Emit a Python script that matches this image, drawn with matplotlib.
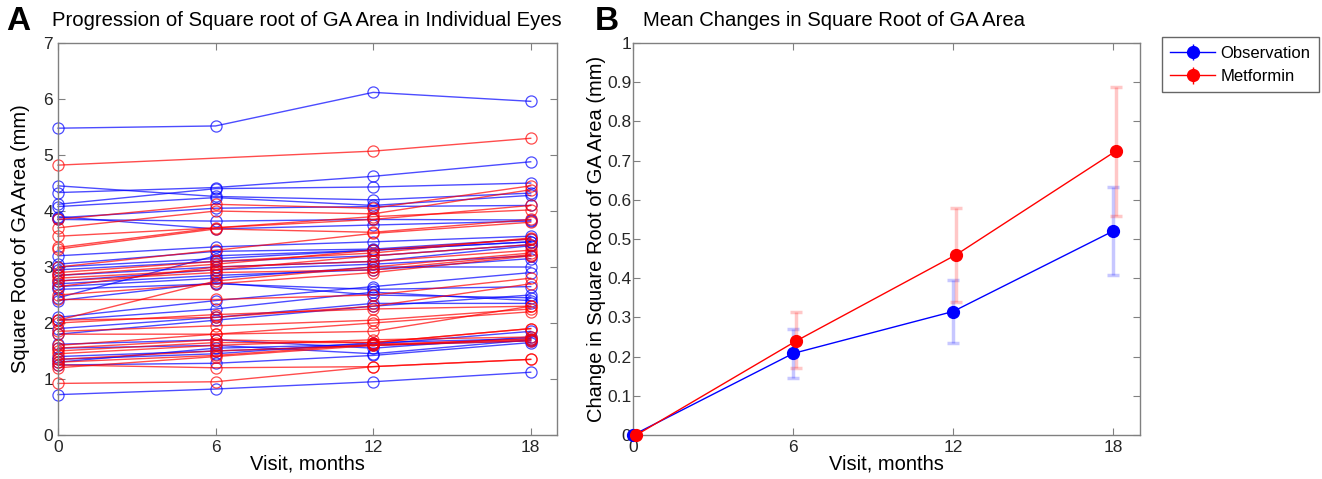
import numpy as np
import matplotlib
matplotlib.use("Agg")
import matplotlib.pyplot as plt

plt.rcParams['font.family'] = ['Liberation Sans', 'DejaVu Sans']

visits = [0, 6, 12, 18]
nan = np.nan

# Panel A: individual eyes (sqrt GA area, mm) at 0, 6, 12, 18 months
obs_eyes = [
    [5.48, 5.52, 6.12, 5.96],
    [4.33, 4.42, 4.62, 4.88],
    [4.12, 4.40, 4.43, 4.50],
    [4.45, 4.26, 4.20, 4.32],
    [4.08, 4.24, 4.10, 4.28],
    [3.88, 4.05, 4.08, 4.10],
    [3.85, 3.82, 3.85, 3.84],
    [3.90, 3.68, 3.75, 3.82],
    [3.20, 3.36, 3.45, 3.55],
    [3.05, 3.28, 3.32, 3.50],
    [3.00, 3.15, 3.30, 3.45],
    [2.95, 3.10, 3.20, 3.40],
    [2.85, 3.00, 3.10, 3.38],
    [2.75, 2.95, 3.05, 3.20],
    [2.70, 2.85, 2.95, 3.15],
    [2.65, 2.80, 3.00, 3.00],
    [2.60, 2.70, 2.60, 2.65],
    [2.45, 3.20, 3.30, 3.45],
    [2.40, 2.72, 2.50, 2.45],
    [2.10, 2.40, 2.65, 2.90],
    [2.05, 2.25, 2.55, 2.40],
    [1.90, 2.10, 2.35, 2.35],
    [1.80, 2.05, 2.30, 2.50],
    [1.62, 1.70, 1.55, 1.75],
    [1.55, 1.60, 1.45, 1.70],
    [1.40, 1.50, 1.60, 1.68],
    [1.35, 1.45, 1.65, 1.72],
    [1.30, 1.55, 1.62, 1.85],
    [1.25, 1.28, 1.42, 1.65],
    [0.72, 0.82, 0.95, 1.12],
]
met_eyes = [
    [4.82, nan, 5.07, 5.30],
    [3.85, 4.12, 4.05, 4.45],
    [3.70, 4.00, 3.95, 4.38],
    [3.55, nan, 3.85, 4.10],
    [3.35, 3.70, 3.90, 4.02],
    [3.32, 3.68, 3.62, 3.85],
    [3.00, 3.30, 3.60, 3.80],
    [2.90, 3.10, 3.25, 3.52],
    [2.85, 3.05, 3.30, 3.50],
    [2.80, 2.95, 3.20, 3.40],
    [2.75, 2.90, 2.95, 3.22],
    [2.65, 3.00, 3.10, 3.30],
    [2.50, 2.70, 2.90, 3.20],
    [2.42, 2.42, 2.50, 2.80],
    [2.05, 2.75, 3.00, 3.25],
    [2.05, 2.10, 2.30, 2.70],
    [2.00, 2.15, 2.25, 2.30],
    [1.85, 1.95, 2.05, 2.25],
    [1.80, 1.80, 2.00, 2.20],
    [1.60, 1.80, 1.85, 2.30],
    [1.55, 1.70, 1.65, 1.90],
    [1.50, 1.65, 1.65, 1.90],
    [1.45, 1.60, 1.70, 1.75],
    [1.35, 1.50, 1.60, 1.72],
    [1.30, 1.42, 1.62, 1.70],
    [1.25, 1.20, 1.22, 1.35],
    [1.20, 1.40, 1.60, 1.68],
    [0.92, 0.95, 1.22, 1.35],
]

# Panel B: mean change with error bar bounds
obs_mean = [0.0, 0.208, 0.315, 0.520]
obs_low = [0.0, 0.145, 0.235, 0.408]
obs_high = [0.0, 0.270, 0.395, 0.633]
met_mean = [0.0, 0.240, 0.460, 0.725]
met_low = [0.0, 0.170, 0.340, 0.560]
met_high = [0.0, 0.313, 0.580, 0.888]

fig = plt.figure(figsize=(13.22, 4.79), dpi=100)
axA = fig.add_axes([0.0439, 0.092, 0.3774, 0.818])
axB = fig.add_axes([0.479, 0.092, 0.383, 0.818])

spine_col = '#808080'
tick_col = '#262626'

def style(ax, ypad=3.5):
    for s in ax.spines.values():
        s.set_color(spine_col)
        s.set_linewidth(1.0)
    ax.tick_params(direction='in', which='both', top=True, right=True,
                   color=spine_col, labelcolor=tick_col, labelsize=12.5, length=5)
    ax.tick_params(axis='y', pad=ypad)

x = np.array(visits, dtype=float)
for eyes, col in ((obs_eyes, 'blue'), (met_eyes, 'red')):
    for e in eyes:
        y = np.array(e, dtype=float)
        m = ~np.isnan(y)
        axA.plot(x[m], y[m], '-o', color=col, mfc='none', mec=col, ms=8,
                 lw=1.0, mew=0.9, alpha=0.7, clip_on=False)

axA.set_xlim(0, 19)
axA.set_ylim(0, 7)
axA.set_xticks(visits)
axA.set_yticks(range(0, 8))
style(axA)
axA.set_xlabel('Visit, months', fontsize=14.5, labelpad=0)
axA.set_ylabel('Square Root of GA Area (mm)', fontsize=14.5, labelpad=10)
axA.set_title('Progression of Square root of GA Area in Individual Eyes',
              fontsize=14.6, loc='left', x=-0.012, pad=12)
fig.text(0.005, 0.922, 'A', fontsize=24, fontweight='bold', ha='left', va='bottom')

xo = x
xm = x + 0.12
ob_err = [np.array(obs_mean) - np.array(obs_low), np.array(obs_high) - np.array(obs_mean)]
me_err = [np.array(met_mean) - np.array(met_low), np.array(met_high) - np.array(met_mean)]
axB.errorbar(xo, obs_mean, yerr=ob_err, fmt='none', ecolor=(0, 0, 1, 0.22),
             elinewidth=2.5, capsize=4, capthick=2.5, clip_on=False)
axB.errorbar(xm, met_mean, yerr=me_err, fmt='none', ecolor=(1, 0, 0, 0.22),
             elinewidth=2.5, capsize=4, capthick=2.5, clip_on=False)
axB.plot(xo, obs_mean, '-o', color='blue', lw=1.0, ms=8.5, clip_on=False, zorder=3)
axB.plot(xm, met_mean, '-o', color='red', lw=1.0, ms=8.5, clip_on=False, zorder=3)
axB.set_xlim(0, 19)
axB.set_ylim(0, 1)
axB.set_xticks(visits)
axB.set_yticks(np.round(np.arange(0, 1.01, 0.1), 1))
axB.set_yticklabels(['0'] + [f'{v:.1f}' for v in np.arange(0.1, 0.95, 0.1)] + ['1'])
style(axB, ypad=1.5)
axB.set_xlabel('Visit, months', fontsize=14.5, labelpad=0)
axB.set_ylabel('Change in Square Root of GA Area (mm)', fontsize=14.5, labelpad=1)
axB.set_title('Mean Changes in Square Root of GA Area', fontsize=14.6,
              loc='left', x=0.02, pad=12)
fig.text(0.450, 0.922, 'B', fontsize=24, fontweight='bold', ha='left', va='bottom')

h1 = axB.errorbar([], [], yerr=[], fmt='-o', color='blue', ms=8.5, lw=1.0, capsize=3)
h2 = axB.errorbar([], [], yerr=[], fmt='-o', color='red', ms=8.5, lw=1.0, capsize=3)
leg = fig.legend([h1, h2], ['Observation', 'Metformin'], loc='upper left',
                 bbox_to_anchor=(0.879, 0.922), fontsize=12, frameon=True,
                 fancybox=False, edgecolor='#404040', handlelength=2.7,
                 borderpad=0.5, labelspacing=0.5, handletextpad=0.3,
                 borderaxespad=0.0)
leg.get_frame().set_linewidth(1.0)

fig.savefig('out.png', dpi=100)
